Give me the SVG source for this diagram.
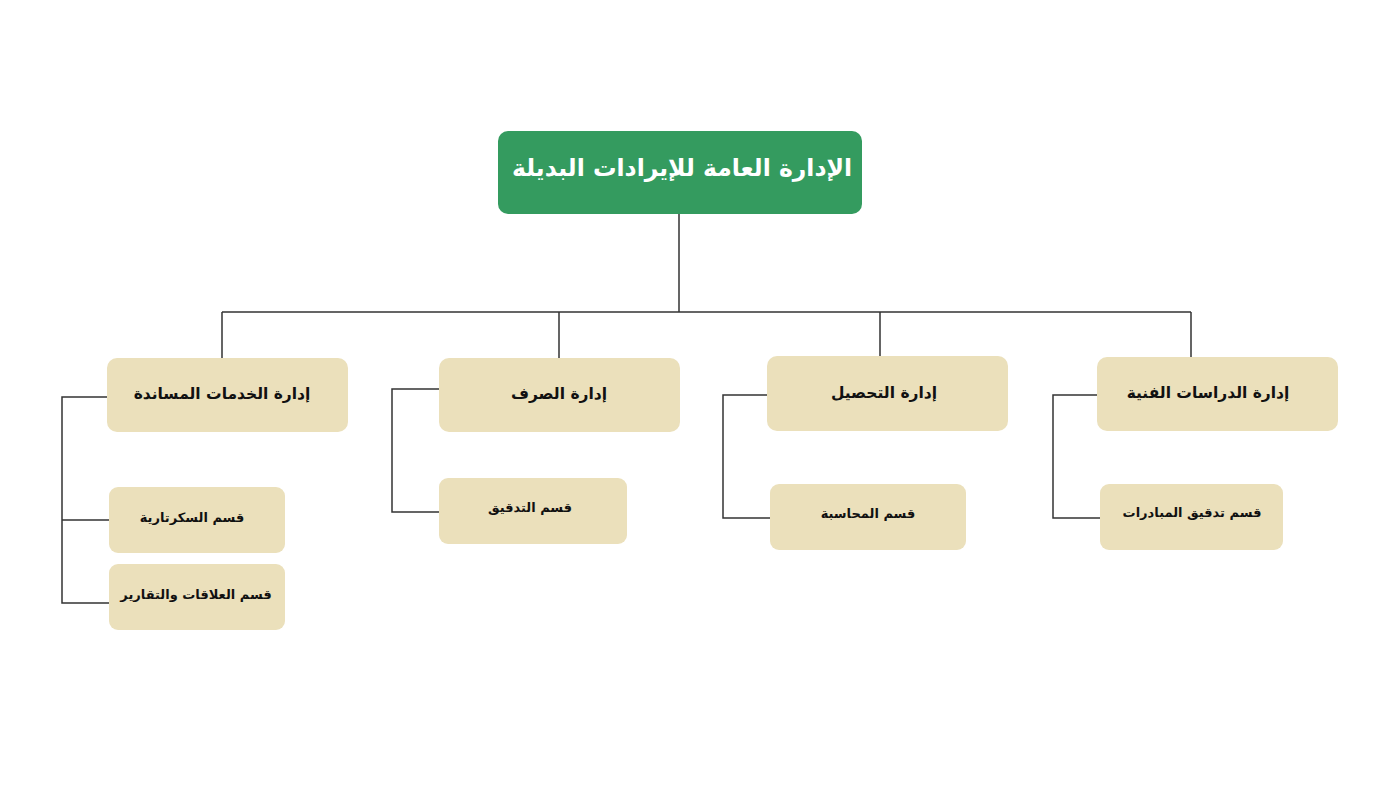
<svg xmlns="http://www.w3.org/2000/svg" width="1394" height="806" viewBox="0 0 1394 806">
<style>
.node{fill:#ebe0bb;}
.root{fill:#349b5f;}
.t{font-family:"DejaVu Sans","Noto Sans",sans-serif;font-weight:bold;text-anchor:middle;dominant-baseline:central;direction:rtl;fill:#111;}
.big{font-size:15.5px;}
.small{font-size:13px;}
.rt{font-size:23.5px;fill:#fff;}
.c{fill:none;stroke:#333;stroke-width:1.5;}
</style>
<rect width="1394" height="806" fill="#fff"/>
<g id="connectors">
<path class="c" d="M679 214 V312 M222 312 H1191 M222 312 V358 M559 312 V358 M880 312 V356 M1191 312 V357"/>
<path class="c" d="M107 397 H62 V603 H109 M62 520 H109"/>
<path class="c" d="M439 389 H392 V512 H439"/>
<path class="c" d="M768 395 H723 V518 H770"/>
<path class="c" d="M1097 395 H1053 V518 H1100"/>
</g>
<g id="root"><rect class="root" x="498" y="131" width="364" height="83" rx="10"/><text class="t rt" x="682" y="168">الإدارة العامة للإيرادات البديلة</text></g>
<g id="n-support"><rect class="node" x="107" y="358" width="241" height="74" rx="10"/><text class="t big" x="222" y="394">إدارة الخدمات المساندة</text></g>
<g id="n-spend"><rect class="node" x="439" y="358" width="241" height="74" rx="10"/><text class="t big" x="559" y="394">إدارة الصرف</text></g>
<g id="n-collect"><rect class="node" x="767" y="356" width="241" height="75" rx="10"/><text class="t big" x="884" y="393">إدارة التحصيل</text></g>
<g id="n-studies"><rect class="node" x="1097" y="357" width="241" height="74" rx="10"/><text class="t big" x="1208" y="393">إدارة الدراسات الفنية</text></g>
<g id="c-secretary"><rect class="node" x="109" y="487" width="176" height="66" rx="9"/><text class="t small" x="192" y="517">قسم السكرتارية</text></g>
<g id="c-relations"><rect class="node" x="109" y="564" width="176" height="66" rx="9"/><text class="t small" x="196" y="594">قسم العلاقات والتقارير</text></g>
<g id="c-audit"><rect class="node" x="439" y="478" width="188" height="66" rx="9"/><text class="t small" x="530" y="507">قسم التدقيق</text></g>
<g id="c-accounting"><rect class="node" x="770" y="484" width="196" height="66" rx="9"/><text class="t small" x="868" y="513">قسم المحاسبة</text></g>
<g id="c-initiatives"><rect class="node" x="1100" y="484" width="183" height="66" rx="9"/><text class="t small" x="1192" y="512">قسم تدقيق المبادرات</text></g>
</svg>
